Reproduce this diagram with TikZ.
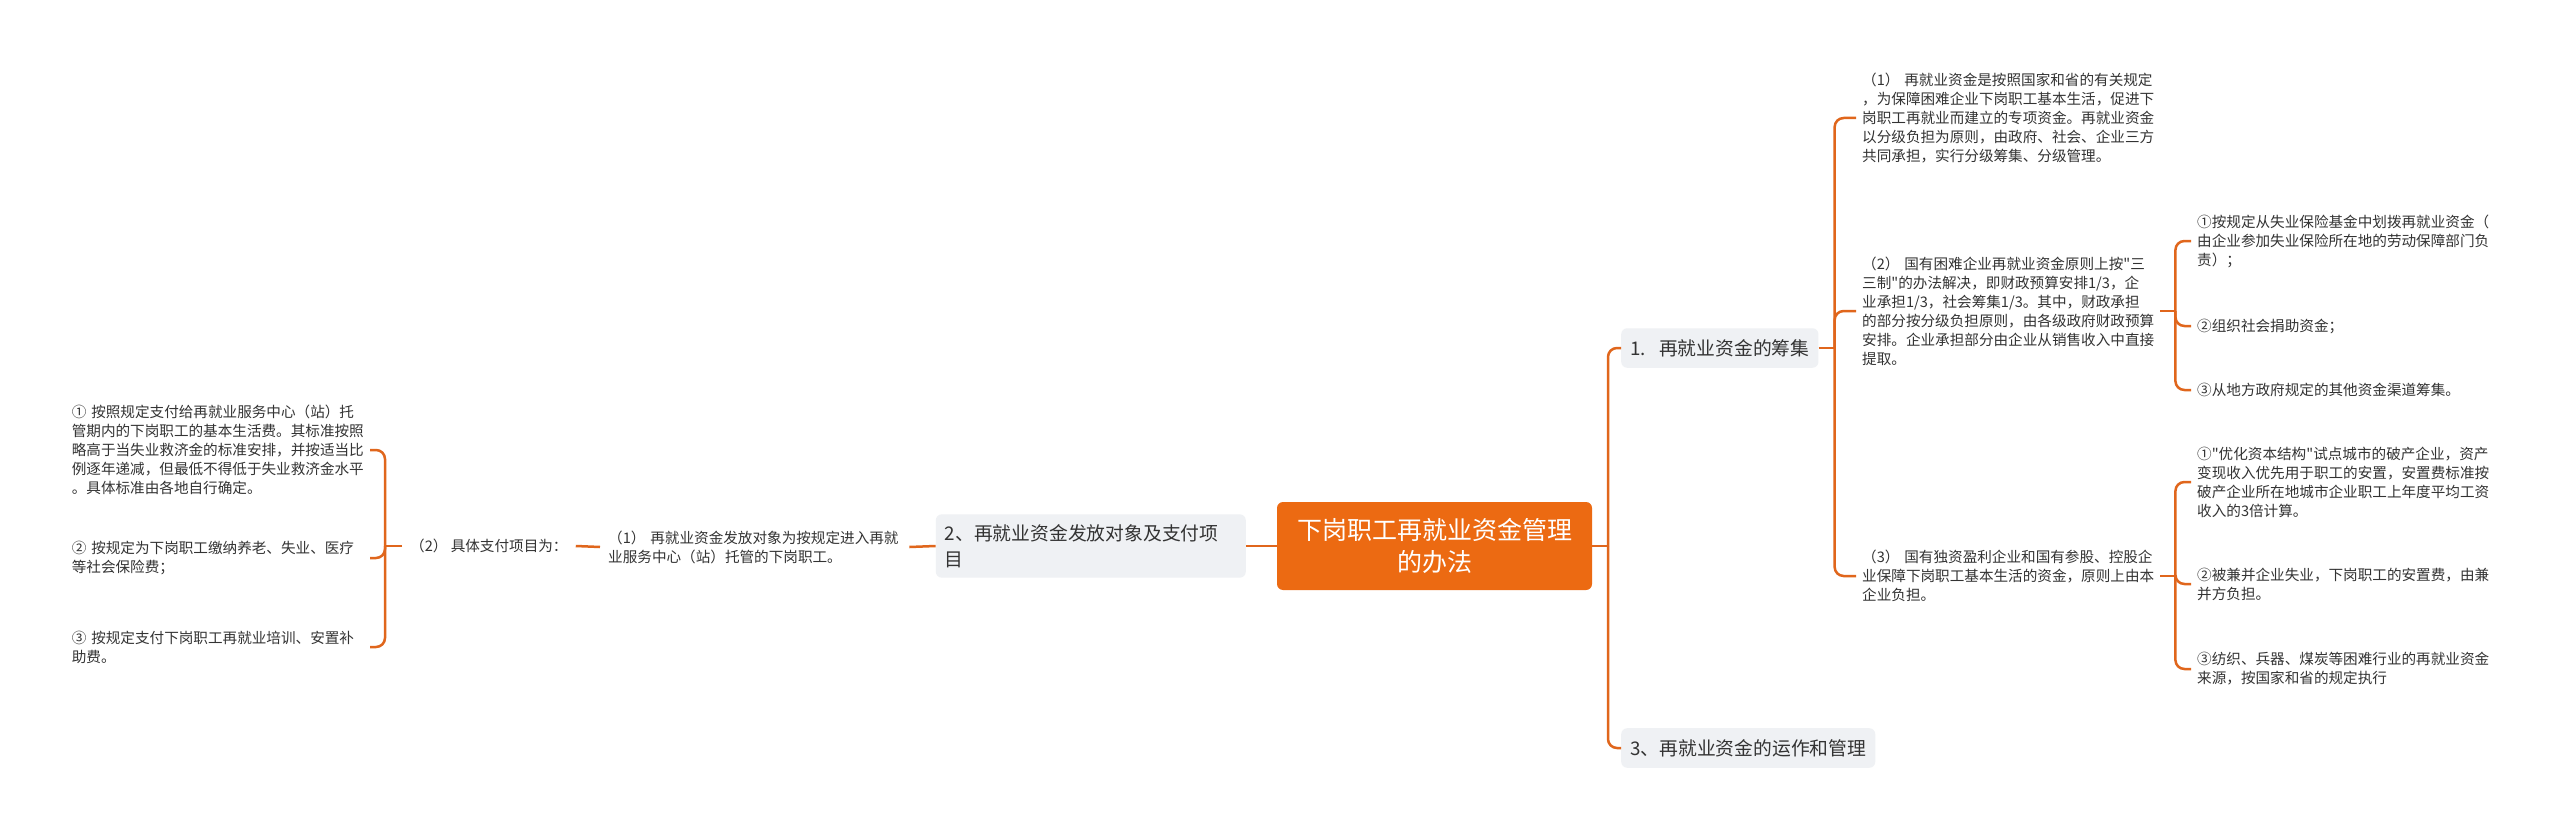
\documentclass[tikz,border=0pt]{standalone}
\usepackage{fontspec}
\setmainfont{Noto Sans CJK SC}[Ligatures=TeXOff]
\usetikzlibrary{calc}
\definecolor{lineor}{HTML}{E0661C}
\definecolor{rootor}{HTML}{EC6A12}
\definecolor{nodegray}{HTML}{EFF1F4}
\definecolor{txtc}{HTML}{333333}
\begin{document}
\begin{tikzpicture}[x=1pt,y=-1pt,
 conn/.style={draw=lineor, line width=2.5pt, rounded corners=9pt},
 txt/.style={inner xsep=6pt, inner ysep=2pt, text width=292pt, align=left, font=\fontsize{14.6}{19}\selectfont, text=txtc},
 plain/.style={inner xsep=8pt, inner ysep=2pt, font=\fontsize{14.6}{19}\selectfont, text=txtc},
 topic/.style={fill=nodegray, rounded corners=6pt, inner xsep=9pt, inner ysep=11pt, font=\fontsize{18.8}{26}\selectfont, text=txtc},
 rootbox/.style={fill=rootor, rounded corners=6pt, text=white, align=center, font=\fontsize{25}{32}\selectfont, inner xsep=18pt, inner ysep=12pt}]
\fill[white] (0,0) rectangle (2560,832);
\useasboundingbox (0,0) rectangle (2560,832);

% root and topics
\node[rootbox, minimum width=315pt, minimum height=88pt] (root) at (1434.5,546) {下岗职工再就业资金管理\\的办法};
\node[topic, anchor=west] (n1) at (1621,348) {1.\hspace{0.7em}再就业资金的筹集};
\node[topic, anchor=west] (n3) at (1621,748) {3、再就业资金的运作和管理};
\node[topic, anchor=east, text width=292pt, align=left, inner ysep=10pt] (n2) at (1246,546) {2、再就业资金发放对象及支付项\\目};

% right level 2
\node[txt, anchor=west] (r1) at (1856,118) {（1）~再就业资金是按照国家和省的有关规定\\，为保障困难企业下岗职工基本生活，促进下\\岗职工再就业而建立的专项资金。再就业资金\\以分级负担为原则，由政府、社会、企业三方\\共同承担，实行分级筹集、分级管理。};
\node[txt, anchor=west] (r2) at (1856,311) {（2）~国有困难企业再就业资金原则上按"三\\三制"的办法解决，即财政预算安排1/3，企\\业承担1/3，社会筹集1/3。其中，财政承担\\的部分按分级负担原则，由各级政府财政预算\\安排。企业承担部分由企业从销售收入中直接\\提取。};
\node[txt, anchor=west] (r3) at (1856,576) {（3）~国有独资盈利企业和国有参股、控股企\\业保障下岗职工基本生活的资金，原则上由本\\企业负担。};

% right level 3
\node[txt, anchor=west] (a1) at (2191,241) {①按规定从失业保险基金中划拨再就业资金（\\由企业参加失业保险所在地的劳动保障部门负\\责）；};
\node[txt, anchor=west] (a2) at (2191,326) {②组织社会捐助资金；};
\node[txt, anchor=west] (a3) at (2191,390) {③从地方政府规定的其他资金渠道筹集。};
\node[txt, anchor=west] (b1) at (2191,482) {①"优化资本结构"试点城市的破产企业，资产\\变现收入优先用于职工的安置，安置费标准按\\破产企业所在地城市企业职工上年度平均工资\\收入的3倍计算。};
\node[txt, anchor=west] (b2) at (2191,584) {②被兼并企业失业，下岗职工的安置费，由兼\\并方负担。};
\node[txt, anchor=west] (b3) at (2191,669) {③纺织、兵器、煤炭等困难行业的再就业资金\\来源，按国家和省的规定执行};

% left side
\node[txt, anchor=west, inner xsep=8pt, text width=293pt] (m1) at (600,547) {（1）~再就业资金发放对象为按规定进入再就\\业服务中心（站）托管的下岗职工。};
\node[plain, anchor=west] (m2) at (402,546) {（2）~具体支付项目为：};
\node[txt, anchor=east] (l1) at (370,450) {①~按照规定支付给再就业服务中心（站）托\\管期内的下岗职工的基本生活费。其标准按照\\略高于当失业救济金的标准安排，并按适当比\\例逐年递减，但最低不得低于失业救济金水平\\。具体标准由各地自行确定。};
\node[txt, anchor=east] (l2) at (370,558) {②~按规定为下岗职工缴纳养老、失业、医疗\\等社会保险费；};
\node[txt, anchor=east] (l3) at (370,647) {③~按规定支付下岗职工再就业培训、安置补\\助费。};

% junctions
\coordinate (jR) at (1608,546);
\coordinate (j1) at ($(n1.east)+(16,0)$);
\coordinate (j2) at ($(r2.east)+(15,0)$);
\coordinate (j3) at ($(r3.east)+(15,0)$);
\coordinate (jL) at (385,546);

% connectors
\draw[conn] (root.east) -- (jR);
\draw[conn] (jR) |- (n1.west);
\draw[conn] (jR) |- (n3.west);
\draw[conn] (n1.east) -- (j1);
\draw[conn] (j1) |- (r1.west);
\draw[conn] (j1) |- (r2.west);
\draw[conn] (j1) |- (r3.west);
\draw[conn] (r2.east) -- (j2);
\draw[conn] (j2) |- (a1.west);
\draw[conn] (j2) |- (a2.west);
\draw[conn] (j2) |- (a3.west);
\draw[conn] (r3.east) -- (j3);
\draw[conn] (j3) |- (b1.west);
\draw[conn] (j3) |- (b2.west);
\draw[conn] (j3) |- (b3.west);
\draw[conn] (root.west) -- (n2.east);
\draw[conn] (n2.west) -- (m1.east);
\draw[conn] (m1.west) -- (m2.east);
\draw[conn] (m2.west) -- (jL);
\draw[conn] (jL) |- (l1.east);
\draw[conn] (jL) |- (l2.east);
\draw[conn] (jL) |- (l3.east);
\end{tikzpicture}
\end{document}
